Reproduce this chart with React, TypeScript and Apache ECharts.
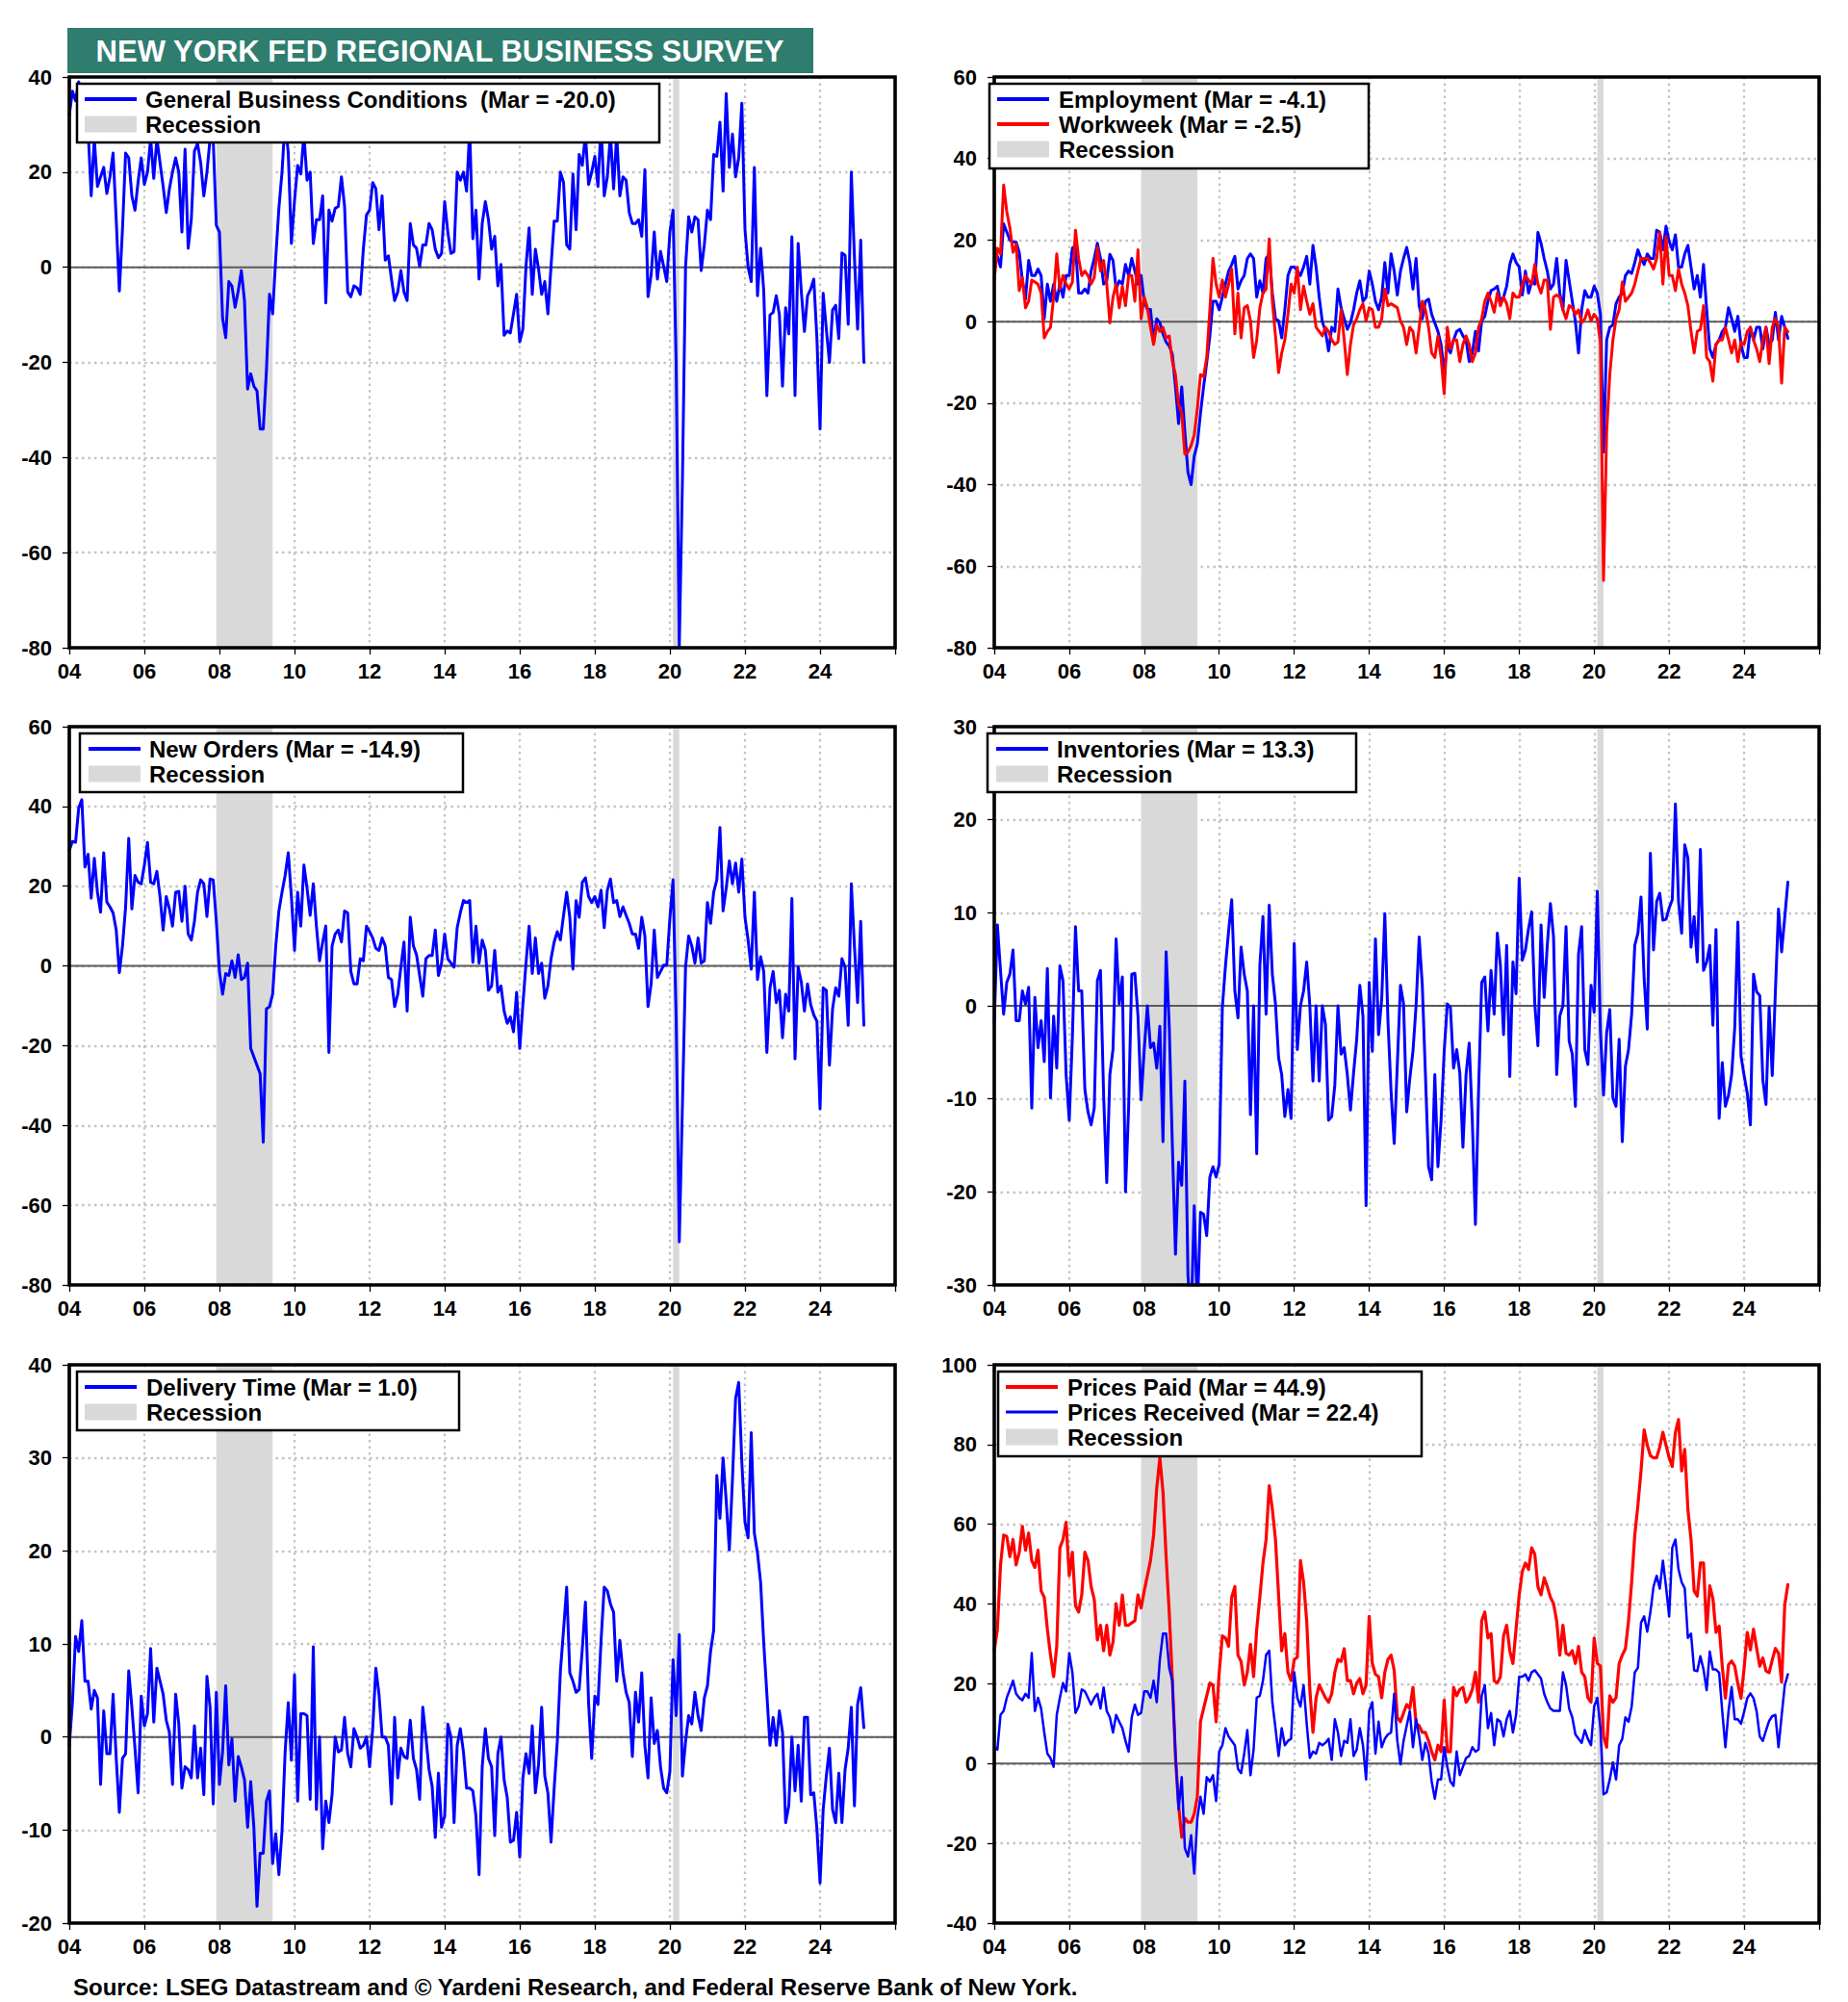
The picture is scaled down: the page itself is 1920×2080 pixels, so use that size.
import React, { useEffect, useRef } from "react";
import * as echarts from "echarts";

// ---------- time frame ----------
const START_YEAR = 2004; // first observation: Jan 2004, monthly
const X_MIN = 2004;
const X_MAX = 2026;
const X_INTERVAL = 2;
const recessionSpans: [number, number][] = [
  [2007 + 11 / 12, 2009 + 5 / 12],
  [2020 + 1 / 12, 2020 + 3 / 12],
];

// ---------- series values (monthly, Jan 2004 .. Mar 2025) ----------
const generalBusiness = [
  32, 37, 35, 39, 34, 31, 29, 15, 27, 17, 19, 21,
  15.5, 19, 24, 10, -5, 8, 24, 23, 15, 12, 18, 23,
  17.4, 20, 27, 18.7, 27, 22, 17, 11.5, 16.5, 20, 23, 20,
  7.4, 24.8, 4, 10, 24.4, 26, 22, 15, 20, 27, 27, 8.8,
  7.4, -10.7, -14.8, -3, -4, -8.4, -5, -0.7, -7, -25.6, -22.4, -25,
  -26, -34, -34, -22, -5.7, -9.8, 2, 12.4, 20, 31, 24, 5,
  14, 21.4, 19.6, 28, 18.3, 20, 5, 10, 10, 15, -7.5, 12,
  9.7, 12.4, 12.8, 19, 12.8, -5.2, -6.2, -3.9, -4.3, -5.7, 3.8, 11,
  12, 17.8, 16.5, 7.9, 15, 1.5, 2.4, -2.5, -7, -5.2, -0.7, -5.2,
  -7, 9.2, 4.7, 4, 0.2, 4.7, 4.7, 9.2, 7.9, 3.8, 2, 2.9,
  13.8, 7.4, 2.9, 3.3, 20, 18.3, 20, 16, 29, 6, 12, -2.5,
  9.2, 13.8, 10, 3.8, 6.5, -3.9, 0.6, -14.3, -13.4, -13.8, -9.8, -5.7,
  -15.7, -13, 0.2, 8.3, -5.7, 3.8, -0.3, -5.7, -3, -9.8, 0.2, 9.7,
  9.7, 20, 17.8, 4.7, 3.8, 19.6, 7.9, 23.7, 21.4, 28, 17.4, 20,
  23.3, 17, 30, 15, 19, 28, 16.5, 28, 15, 19, 18.3, 11.5,
  9.2, 9.2, 10, 6.5, 20.5, -6.2, -1.6, 7.4, -2.5, 3.3, 0.2, -3,
  7.4, 12, -20, -80, -45, 0, 10.6, 7.4, 10.6, 10, -0.7, 4.7,
  12, 10, 23.7, 23.3, 30.5, 16, 36.5, 21, 28, 19, 23, 34.5,
  8, 0, -3, 21, -6, 4, -5, -27, -10, -9.5, -6, -10,
  -25, -8.5, -14, 6.4, -27, 5, -5, -13.5, -6, -4.6, -2.5, -15,
  -34, -5.5, -13, -20, -9, -8, -15, 3, 2.5, -12, 20, 2,
  -13, 5.7, -20,
];

const employment = [
  18, 16, 13.4, 24, 22, 20, 19.5, 19.5, 17, 10, 5.5, 15,
  11.3, 11.3, 12.9, 11.3, 0.7, 9.2, 5, 9.2, 5, 9.2, 6, 11.3,
  11.3, 18, 18.7, 7, 7, 8, 7, 12.4, 15.5, 19.2, 15.5, 9.2,
  10, 16.5, 15, 8, 10, 9.2, 14, 11.3, 15.5, 12.4, 9.2, 11.3,
  5, 3, 3, -5, 0.7, -0.3, -3, -5, -6, -8, -16, -25,
  -16, -27, -37, -40, -33, -30, -22.5, -16, -10, -3.5, 5, 5,
  2.9, 6, 9.2, 12.4, 14, 16, 8, 10, 11.3, 15.5, 16.6, 15.5,
  6, 10, 7, 15.5, 16.6, 7, 0.7, 0.2, -4, 2.9, 11.3, 13.4,
  13.4, 12.5, 11.3, 13.4, 16, 9.2, 18.7, 13.4, 6, 0, -2.4, -7.2,
  -1.4, -2.4, 8, 3.4, 0.7, -1.9, -0.3, 2.9, 7, 10, 5, 6,
  12.4, 9.2, 5, 2.9, 6, 14.5, 7, 16.6, 12.4, 6.5, 12.4, 15.5,
  18.2, 14.5, 8, 15.5, 3.9, 0.7, 5, 5.5, 1.8, -0.3, -2.4, -5.6,
  -12.5, -5.6, -7.7, -4.5, -2.4, -1.9, -3.5, -4.5, -9.8, -7.7, -2.4, -7.2,
  0.2, 1.3, 5, 7.6, 8, 8.7, 5, 6, 8.7, 14, 16.6, 14.5,
  13.4, 6.5, 12.4, 7, 9.7, 9.2, 21.9, 19.2, 15.5, 12.4, 8, 9.2,
  15.5, 7, 2.9, 15, 10, 5, 0, -7.7, 2.9, 7.6, 6, 6,
  8.7, 7, 1.8, -32, -4.5, -1.4, -0.8, 4.4, 6, 7, 11.3, 12.4,
  11.8, 14.5, 17.6, 15.5, 14, 16.6, 15.5, 15.5, 22.4, 21.9, 17.6, 23.4,
  19.7, 17.6, 21.3, 13.4, 13.4, 16.6, 18.7, 13.4, 8, 11.3, 6, 14,
  3, -6.7, -8.8, -5.6, -4.5, -2.4, -1.4, 3.4, 0.7, -2.4, 1.3, -5.6,
  -8.8, -8.8, -1.4, -4.5, -1.4, -1.4, -6.7, -1.4, -5.6, -4.5, 2.3, -4.5,
  1.3, -1.4, -4.1,
];

const workweek = [
  10.2, 18, 16.6, 33.5, 27, 23, 17, 19, 7.6, 10.8, 3.4, 5,
  10.2, 9.7, 9.2, 7, -4, -2.4, -1.4, 6, 16.6, 8, 11.3, 9.2,
  8, 9.7, 22.4, 15.5, 11.3, 12.4, 11.3, 9.2, 10.8, 18.2, 12.4, 15,
  9.2, -0.3, 6, 9.2, 3.4, 8.7, 3.9, 11.3, 11.3, 5, 17.6, 0.7,
  6, 3.4, -1.4, -5.6, -0.8, -2.4, -1.4, -4, -3.5, -9.8, -13, -20.4,
  -22.5, -32.5, -32, -30.4, -27.8, -21.4, -13, -13.5, -8.8, 2.9, 15.5, 9.2,
  6, 10.2, 6, 9.2, 12.9, -3, 7, -4, 3.4, 3.9, 0.2, -8.8,
  -4.5, 3.4, 7, 8, 20.3, 5, -3.5, -12.5, -7.7, -4.5, 1.8, 9.2,
  7, 13.4, 2.9, 8.7, 5, 1.8, 4.4, -1.4, -2.4, -3.5, -1.4, -2.4,
  -4.5, -5.6, -5, 2.9, -4.5, -13, -5.6, -0.8, 0.7, 2.9, 4.4, 0.2,
  3.4, 2.9, -1.4, -1.4, 0.7, 8, 3.9, 4.4, 3.9, 3.4, 0.2, -1.4,
  -5.6, -1.4, -2.4, -7.7, -1.4, 5, 2.9, -1.4, -7.7, -8.8, -3.5, -8.8,
  -17.7, -1.4, -6.7, -4.5, -4.5, -9.8, -5.6, -3.5, -5.6, -9.8, -7.7, -1.4,
  0.7, 5, 7, 5, 2.3, 7, 3.9, 6, 4.4, 0.7, 7, 6,
  6, 9.2, 11.3, 10.2, 9.2, 14, 9.2, 7, 10.2, 10.2, -1.9, 6,
  6.5, 6, 2.9, 0.7, 3.9, 3.4, 1.8, 2.9, -0.3, 0.7, 2.9, 0.2,
  1.8, 0.7, -5, -63.5, -27, -13, -4.5, 0.7, 2.9, 9.7, 5, 6,
  7, 9.2, 12.4, 15.5, 15.5, 15.5, 14.5, 12.9, 15.5, 21.9, 9.2, 20.8,
  11.3, 11.3, 7.6, 12.9, 9.2, 7, 3.9, -2.4, -7.7, -2.4, -1.9, 3.9,
  -8.8, -9.8, -14.6, -5.6, -4.5, -4.5, -1.4, -4.5, -7.7, -4.5, -9.8, -5,
  -5.6, -2.4, -1.4, -4.5, -6.7, -9.8, -4.5, -1.4, -10.3, -1.4, 0.7, -1.4,
  -15.1, -1.4, -2.5,
];

const newOrders = [
  29, 31.2, 31, 39.6, 41.7, 24.8, 28, 17, 27, 18.5, 13.5, 28.4,
  16, 14.8, 13.3, 9, -1.7, 5, 14.8, 32, 14.3, 22.7, 21, 20.6,
  25.3, 31, 21, 20.6, 23.7, 17.4, 9, 17.4, 14.3, 10, 18.5, 18.7,
  11.2, 20, 8, 6.5, 11.2, 18.5, 21.6, 20.6, 12.4, 21.8, 21.6, 11.2,
  -1.4, -7.1, -1.9, -2.4, 1.3, -2.9, 2.8, -3.4, -2.9, 0.7, -20.7, -22.8,
  -24.9, -27, -44.2, -10.8, -10.2, -7.1, 5, 13.8, 18.5, 22.7, 28.4, 17.4,
  3.9, 18.5, 10, 25.3, 19.5, 12.7, 20.6, 10, 1.3, 6, 10, -21.7,
  5, 8, 9, 6, 13.8, 13.3, -1.4, -4.5, -4.5, 1.8, 1.3, 10,
  8.6, 7, 4.4, 3.9, 7, 5, -2.9, -3.4, -10.2, -7.1, -0.3, 6,
  -11.3, 12.2, 5, 2.8, -2.4, -7.6, 1.8, 2.6, 2.6, 9, -2.4, 0.7,
  8, 1.8, 0.7, -0.3, 9.6, 13.3, 16.4, 15.9, 16.4, 0.9, 10, 0.7,
  6.5, 3.9, -6.1, -5, 3.9, -6.6, -5, -11.3, -14.4, -12.8, -16.5, -6.6,
  -20.7, -9.7, 0.7, 10, -1.9, 7, -1.9, 0.7, -8.1, -5, 1.8, 6,
  8.6, 6.5, 12.7, 18.5, 12.2, -0.8, 16.4, 12.2, 21, 22.1, 17.4, 15.9,
  17.4, 14.8, 19, 9.6, 19, 21.8, 15.9, 16.4, 12.4, 14.8, 12.7, 10.7,
  8, 8, 4.4, 12.2, 7.5, -10.2, -4.5, 9, -2.9, -1.4, 0.2, 0.2,
  12, 21.6, -13, -69.2, -35, -0.3, 7.5, 5, 0.7, 7, 0.7, 1.3,
  15.9, 10.7, 18.5, 21.6, 34.7, 13.8, 19.5, 26.3, 20.6, 25.8, 18.5, 26.8,
  12.2, 6.5, -0.8, 18.5, -3.4, 2.3, -1.4, -21.7, -5.5, -1.4, -9.2, -6.1,
  -18, -7.1, -11.3, 16.9, -23.3, -0.3, -4, -11.3, -4.5, -9.7, -12.3, -13.9,
  -35.8, -5.5, -6.1, -24.9, -10.8, -5.5, -7.6, 1.8, -0.3, -14.9, 20.6, 4.9,
  -9.2, 11.2, -14.9,
];

const inventories = [
  -1.8, 8.7, 3.8, -0.9, 2.5, 3.4, 6, -1.6, -1.6, 1.6, 0.2, 2,
  -11, 0.9, -4.5, -1.6, -6, 4, -9.9, -1.1, -6.7, 4.3, 2.7, -7.4,
  -12.3, -3.4, 8.5, 1.6, 1.6, -9, -11.4, -12.8, -11, 2.7, 3.8, -9.6,
  -19, -7.4, -4.7, 7.2, 0.2, 3.1, -20, -11, 3.4, 3.5, -1.1, -10.1,
  -4.7, 0, -4.5, -4, -6.7, -2.2, -14.6, 5.8, -2.2, -15, -26.7, -16.8,
  -19.3, -8.1, -29, -34, -21.5, -33, -22.2, -22.4, -24.7, -18.4, -17.3, -18.4,
  -17, -0.2, 4.3, 8, 11.4, 1.6, -1.3, 6.3, 3.4, 1.6, -11.7, 0,
  -15.9, 4.3, 9.6, -0.9, 10.8, 3.4, 0.2, -5.6, -7.4, -11.9, -9, -12.1,
  6.7, -4.7, 0, 1.6, 4.7, 0, -8.1, 0, -8.1, 0, -2, -12.3,
  -11.9, -8.5, 0, -5.2, -4.5, -7.4, -11.2, -7.2, -3.6, 2.2, -1.1, -21.5,
  2.5, -4.9, 7.2, -3.1, 0.7, 9.9, -1.6, -9.2, -14.8, -6.3, 2.2, 0.2,
  -11.4, -7.8, -4.9, 0, 7.4, 2.2, -7.4, -17.3, -18.7, -7.4, -17.3, -12.3,
  -4.9, 0.2, -0.2, -6.7, -4.7, -7.2, -15.2, -7.4, -4, -12.3, -23.5, -9.2,
  2.5, 3.1, -2.7, 3.8, -0.9, 7.8, 4.3, -3.1, 6.5, -7.6, 4.7, 1.3,
  13.7, 4.9, 6, 8.3, 10.1, 0.2, -4.3, 8.7, 0.9, 6.5, 11, 7.4,
  -7.4, -1.1, 0, 8.5, -3.8, -5.2, -10.8, 5.6, 8.5, -4.7, -6.3, 2.2,
  -0.7, 12.3, -2.7, -9.6, -2.9, -0.4, -9.9, -10.8, -3.6, -14.6, -6.5, -4.7,
  -0.9, 6.5, 7.8, 11.7, 2.9, -2.5, 16.4, 6, 11.2, 12.1, 9.2, 9.3,
  10.5, 11.4, 21.7, 11.2, 7.8, 17.3, 15.9, 6.3, 9.6, 4.7, 16.8, 3.8,
  4.7, 6.5, -2.1, 8.2, -12.1, -6.1, -10.8, -9.6, -7.4, -2.3, 9, -5.4,
  -7.5, -9.4, -12.8, 3.4, 1.5, 1.1, -8, -10.6, -0.1, -7.5, 1.5, 10.4,
  5.8, 9.5, 13.3,
];

const deliveryTime = [
  -0.9, 3.7, 10.8, 9.2, 12.5, 6, 6, 3, 5, 4.2, -5.1, 2.8,
  -1.8, -1.8, 4.6, -2.3, -8.1, -2.3, -1.8, 7.1, 3.2, -1.2, -6, 4.4,
  1.2, 2.5, 9.5, 1.6, 7.4, 6, 4.6, 1.8, 0.5, -5.1, 4.6, 1.4,
  -5.5, -3.2, -3.5, -4.4, 1.2, -4.4, -1.2, -6.2, 6.5, 3.2, -7.2, 4.8,
  -5.1, -1.6, 5.5, -3, -0.2, -6.9, -2.1, -3.2, -4.6, -9.7, -4.8, -9.7,
  -18.2, -12.5, -12.5, -6.9, -5.8, -13.6, -10.4, -14.8, -10.1, -1.6, 3.7, -2.5,
  6.7, -6.9, 2.5, 2.5, 2.3, -6.7, 9.7, -7.8, 0, -12, -6.9, -9.2,
  -6.2, 0, -1.6, -1.4, 2.1, -1.8, -3.2, 0.9, 0, -1.2, -0.9, 0,
  -3.2, 0.9, 7.4, 4.6, 0, 0, -0.9, -7.2, 2.1, -4.4, -1.2, -2.1,
  -2.3, 1.8, -2.3, -3.5, -6.7, 3.2, 0, -3.5, -5.3, -10.8, -3.9, -9.7,
  -8.5, 1.4, 0, -9.2, -0.9, 0.9, -1.6, -5.5, -5.5, -5.8, -8.5, -14.8,
  -3.2, 0.9, -2.3, -3.2, -10.6, -1.8, 0, -4.6, -6.5, -11.3, -11.1, -8.1,
  -12.9, -4.4, -1.8, -3.9, 1.2, -6, -3, 3.2, -4.2, -6, -11.3, -5.5,
  -0.5, 7.1, 11.5, 16.1, 6.9, 6, 4.8, 5.1, 9.5, 14.5, 3.7, -2.3,
  4.4, 3.5, 10.4, 16.1, 15.7, 14.3, 13.4, 6, 10.4, 6.9, 4.8, 3.7,
  -2.1, 4.8, 1.6, 6.9, -0.9, -4.4, 4.2, -0.7, 0.7, -3.2, -5.5, -6,
  -3.7, 8.3, 2.3, 11, -4.2, -0.5, 2.3, 1.4, 4.8, 2.3, 0.7, 4.2,
  5.5, 9.2, 11.5, 28.1, 23.5, 30, 25.4, 20.1, 27.7, 36.4, 38.1, 29.5,
  23.1, 21.4, 32.7, 21.9, 19.8, 16.6, 10.1, 4.6, -0.9, 2.1, -0.9, 2.8,
  0.5, -9.2, -7.4, 0, -5.8, -0.9, -6.9, 2.1, 2.1, -6.2, -6, -9.9,
  -15.7, -7.8, -4.2, -1.2, -7.8, -9.2, -3.9, -9.2, -3.5, -1.2, 3.2, -7.4,
  3.5, 5.3, 1.0,
];

const pricesPaid = [
  28.3, 33.7, 49.8, 57.3, 57, 51.9, 56.2, 49.8, 53, 59.5, 53.5, 57.8,
  50.9, 49.2, 53.5, 43.3, 41.7, 33.7, 27.2, 21.8, 29.4, 54.1, 56.2, 60.5,
  47.1, 53, 39.6, 38, 42.3, 53, 50.9, 44.4, 41.2, 31, 34.7, 28.3,
  34.7, 27.2, 30.4, 40.1, 34.7, 42.3, 34.7, 34.7, 35.3, 35.8, 42.3, 39,
  43.3, 47.1, 50.9, 57.3, 69.1, 76.7, 68.1, 51.9, 38, 20.8, 1.4, -10.4,
  -18.5, -13.7, -14.7, -14.7, -12.6, -8.3, 10.5, 13.8, 17, 20.2, 19.7, 10.5,
  22.9, 32, 31.5, 29.4, 41.7, 44.4, 27.2, 25.6, 19.7, 22.9, 29.9, 21.8,
  33.7, 41.7, 50.3, 56.2, 69.7, 63.8, 56.2, 42.3, 28.3, 32.6, 22.9, 20.8,
  26.1, 26.7, 50.9, 45.5, 35.8, 18.6, 7.8, 16.5, 19.7, 18.1, 16.5, 15.4,
  17.5, 22.9, 26.1, 25.6, 28.8, 20.8, 20.8, 17.5, 20.2, 21.3, 17.5, 19.7,
  36.9, 25.1, 22.4, 21.8, 16.5, 22.9, 26.1, 27.2, 23.4, 11.6, 10.5, 12.7,
  14.8, 13.8, 19.1, 10, 9.5, 7.8, 7.8, 5.7, 3, 0.9, 4.6, 3,
  15.9, 3, 3, 19.1, 17, 18.6, 19.1, 15.4, 16.5, 18.6, 22.9, 15.4,
  35.8, 38, 31.5, 32.6, 20.8, 20.2, 21.8, 32, 34.7, 28.3, 25.1, 33.7,
  42.3, 48.2, 50.3, 48.7, 54.1, 52.5, 44.4, 42.3, 46.6, 44.4, 41.7, 40.1,
  35.8, 27.2, 34.7, 27.7, 27.2, 28.3, 25.1, 29.4, 22.9, 21.8, 16.5, 15.4,
  31.5, 25.1, 24.5, 6.8, 4.1, 17, 15.4, 16.5, 25.1, 27.2, 28.8, 35.8,
  45.5, 57.3, 64.8, 73.4, 83.7, 79.9, 77.2, 76.7, 76.7, 79.4, 83.1, 79.9,
  76.7, 74.5, 83.1, 86.3, 73.4, 78.8, 63.8, 56.2, 43.3, 42, 50.3, 50.3,
  32.9, 44.6, 41.4, 32.9, 34.5, 24.4, 16.4, 24.8, 25.7, 24.4, 20, 16.4,
  24, 32.9, 28.5, 33.7, 29, 24.4, 26.5, 23.2, 22.8, 26, 28.9, 27.7,
  20.4, 39.8, 44.9,
];

const pricesReceived = [
  4.1, 3.5, 12.2, 13.2, 16.5, 18.6, 20.8, 17.5, 16.5, 15.9, 17.5, 16.5,
  27.7, 13.2, 16.5, 13.8, 7.8, 2.5, 1.4, -0.8, 12.2, 16.5, 20.2, 18.1,
  27.7, 22.9, 12.7, 14.3, 18.6, 18.1, 16.5, 14.8, 16.5, 17.5, 13.8, 19.1,
  13.2, 11.6, 7.8, 12.2, 10.5, 8.9, 5.7, 3, 11.6, 14.8, 12.2, 12.7,
  18.1, 18.1, 16.5, 20.8, 15.4, 26.1, 32.6, 32.6, 24, 20.8, 2.5, -11.5,
  -3.4, -21.2, -23.3, -18, -27.6, -13.7, -8.3, -12.6, -3.4, -4.5, -2.9, -9.4,
  3, 4.6, 8.9, 6.8, 5.7, 4.6, -1.3, -2.4, 2.5, 8.4, -2.9, 3.5,
  16.5, 17, 20.8, 27.2, 28.3, 15.4, 8.9, 1.9, 8.9, 4.6, 5.7, 6.2,
  22.9, 16.5, 14.3, 19.7, 10, 1.4, 3, 2.5, 5.2, 4.6, 5.2, 6.2,
  0.9, 11.1, 7.8, 1.9, 5.7, 5.2, 11.1, 1.9, 3.5, 8.9, 4.6, -4,
  13.2, 15.4, 2.5, 10.5, 4.1, 6.2, 7.3, 7.8, 17.5, 5.7, -0.2, 5.7,
  9.5, 13.2, 4.1, 11.1, 6.8, 0.9, 5.2, 2.5, -4.5, -8.8, -4, -4,
  4.1, -0.8, -4.5, -5.6, 3, -2.9, -0.8, 1.4, 1.9, 4.1, 3, 3.5,
  17, 19.7, 8.9, 12.7, 4.6, 11.1, 10.5, 6.8, 11.1, 13.2, 7.8, 12.2,
  21.8, 21.8, 22.4, 20.8, 22.9, 23.4, 22.4, 21.3, 17.5, 15.4, 13.8, 13.2,
  13.2, 13.2, 22.9, 19.7, 13.8, 11.6, 7.3, 6.2, 5.2, 8.4, 6.2, 4.6,
  14.3, 16.5, 8.9, -7.7, -7.2, -4, 0.3, -4, 4.6, 6.2, 11.6, 10.5,
  14.3, 22.9, 24, 35.3, 36.9, 33.1, 38, 44.4, 47.1, 43.9, 50.9, 44.4,
  36.9, 54.1, 56.2, 48.7, 45.5, 43.9, 31.5, 32.6, 23.4, 23.2, 26.9, 23.6,
  18.4, 28.1, 23.6, 23.6, 22.8, 13.1, 4.1, 13.1, 19.2, 11.1, 11.1, 10,
  13, 16.4, 17.6, 16.4, 13.1, 6.8, 5.7, 8.3, 10.7, 11.9, 12.2, 4.1,
  12, 19.6, 22.4,
];

// ---------- texts ----------
const TITLE = "NEW YORK FED REGIONAL BUSINESS SURVEY";
const SOURCE = "Source: LSEG Datastream and \u00a9 Yardeni Research, and Federal Reserve Bank of New York.";

// ---------- styling ----------
const FONT = '"Liberation Sans", Arial, Helvetica, sans-serif';
const BLUE = "#0000ff";
const RED = "#ff0000";
const REC_GRAY = "#d9d9d9";
const GRID_GRAY = "#c4c4c4";
const TEAL = "#2e7d6e";

type LegendRow = { kind: "line" | "rec"; color?: string; lw?: number; label: string };
type Panel = {
  left: number; top: number; width: number; height: number;
  yMin: number; yMax: number; yInterval: number;
  lines: { name: string; values: number[]; color: string; width: number }[];
  legend: { x: number; w: number; sx: number; tx: number; rows: LegendRow[] };
};

const LEFT_X = 72, LEFT_W = 858, RIGHT_X = 1033, RIGHT_W = 857;
const ROW1_Y = 80, ROW1_H = 593, ROW2_Y = 755, ROW2_H = 580, ROW3_Y = 1418, ROW3_H = 580;

const panels: Panel[] = [
  {
    left: LEFT_X, top: ROW1_Y, width: LEFT_W, height: ROW1_H, yMin: -80, yMax: 40, yInterval: 20,
    lines: [{ name: "General Business Conditions", values: generalBusiness, color: BLUE, width: 3 }],
    legend: { x: 80, w: 605, sx: 88, tx: 151, rows: [
      { kind: "line", color: BLUE, lw: 4, label: "General Business Conditions  (Mar = -20.0)" },
      { kind: "rec", label: "Recession" },
    ] },
  },
  {
    left: RIGHT_X, top: ROW1_Y, width: RIGHT_W, height: ROW1_H, yMin: -80, yMax: 60, yInterval: 20,
    lines: [
      { name: "Employment", values: employment, color: BLUE, width: 3 },
      { name: "Workweek", values: workweek, color: RED, width: 3 },
    ],
    legend: { x: 1028, w: 394, sx: 1036, tx: 1100, rows: [
      { kind: "line", color: BLUE, lw: 4, label: "Employment (Mar = -4.1)" },
      { kind: "line", color: RED, lw: 4, label: "Workweek (Mar = -2.5)" },
      { kind: "rec", label: "Recession" },
    ] },
  },
  {
    left: LEFT_X, top: ROW2_Y, width: LEFT_W, height: ROW2_H, yMin: -80, yMax: 60, yInterval: 20,
    lines: [{ name: "New Orders", values: newOrders, color: BLUE, width: 3 }],
    legend: { x: 83, w: 398, sx: 92, tx: 155, rows: [
      { kind: "line", color: BLUE, lw: 4, label: "New Orders (Mar = -14.9)" },
      { kind: "rec", label: "Recession" },
    ] },
  },
  {
    left: RIGHT_X, top: ROW2_Y, width: RIGHT_W, height: ROW2_H, yMin: -30, yMax: 30, yInterval: 10,
    lines: [{ name: "Inventories", values: inventories, color: BLUE, width: 3 }],
    legend: { x: 1026, w: 383, sx: 1035, tx: 1098, rows: [
      { kind: "line", color: BLUE, lw: 4, label: "Inventories (Mar = 13.3)" },
      { kind: "rec", label: "Recession" },
    ] },
  },
  {
    left: LEFT_X, top: ROW3_Y, width: LEFT_W, height: ROW3_H, yMin: -20, yMax: 40, yInterval: 10,
    lines: [{ name: "Delivery Time", values: deliveryTime, color: BLUE, width: 3 }],
    legend: { x: 80, w: 397, sx: 88, tx: 152, rows: [
      { kind: "line", color: BLUE, lw: 4, label: "Delivery Time (Mar = 1.0)" },
      { kind: "rec", label: "Recession" },
    ] },
  },
  {
    left: RIGHT_X, top: ROW3_Y, width: RIGHT_W, height: ROW3_H, yMin: -40, yMax: 100, yInterval: 20,
    lines: [
      { name: "Prices Paid", values: pricesPaid, color: RED, width: 3.2 },
      { name: "Prices Received", values: pricesReceived, color: BLUE, width: 2.5 },
    ],
    legend: { x: 1037, w: 440, sx: 1045, tx: 1109, rows: [
      { kind: "line", color: RED, lw: 4, label: "Prices Paid (Mar = 44.9)" },
      { kind: "line", color: BLUE, lw: 3, label: "Prices Received (Mar = 22.4)" },
      { kind: "rec", label: "Recession" },
    ] },
  },
];

function toPoints(values: number[]) {
  return values.map((v, i) => [START_YEAR + i / 12, v]);
}

function buildOption() {
  const labelStyle = { color: "#000", fontSize: 22, fontWeight: "bold" as const, fontFamily: FONT };
  const splitLine = { show: true, lineStyle: { color: GRID_GRAY, width: 2.3, type: [2.5, 4] as any } };
  const tick = { show: true, length: 7, lineStyle: { color: "#000", width: 1.3 } };

  const grid = panels.map((p) => ({ left: p.left, top: p.top, width: p.width, height: p.height, show: false }));
  const xAxis = panels.map((p, i) => ({
    type: "value", gridIndex: i, min: X_MIN, max: X_MAX, interval: X_INTERVAL,
    axisLine: { show: false, onZero: false },
    axisTick: tick,
    axisLabel: {
      ...labelStyle, margin: 13,
      formatter: (v: number) => (v >= X_MAX ? "" : String(Math.round(v) % 100).padStart(2, "0")),
    },
    splitLine,
  }));
  const yAxis = panels.map((p, i) => ({
    type: "value", gridIndex: i, min: p.yMin, max: p.yMax, interval: p.yInterval,
    axisLine: { show: false, onZero: false },
    axisTick: tick,
    axisLabel: { ...labelStyle, margin: 18 },
    splitLine,
  }));

  const series: any[] = [];
  panels.forEach((p, i) => {
    series.push({
      type: "line", xAxisIndex: i, yAxisIndex: i, silent: true, z: 1,
      data: [[X_MIN, 0], [X_MAX, 0]], symbol: "none",
      lineStyle: { opacity: 0, width: 0 },
      markArea: {
        silent: true, itemStyle: { color: REC_GRAY },
        data: recessionSpans.map(([a, b]) => [{ xAxis: a }, { xAxis: b }]),
      },
    });
    series.push({
      type: "line", xAxisIndex: i, yAxisIndex: i, silent: true, z: 2,
      data: [[X_MIN, 0], [X_MAX, 0]], symbol: "none",
      lineStyle: { color: "#5a5a5a", width: 2 },
    });
    p.lines.forEach((l) => {
      series.push({
        type: "line", name: l.name, xAxisIndex: i, yAxisIndex: i, z: 3, silent: true,
        data: toPoints(l.values), symbol: "none", showSymbol: false, clip: true,
        lineStyle: { color: l.color, width: l.width, join: "round", cap: "round" },
        itemStyle: { color: l.color },
      });
    });
  });

  const graphics: any[] = [];
  // title banner
  graphics.push({ type: "rect", shape: { x: 70, y: 29, width: 775, height: 47 }, style: { fill: TEAL }, z: 70 });
  graphics.push({
    type: "text", x: 457, y: 53, z: 71,
    style: { text: TITLE, fill: "#fff", fontSize: 31, fontWeight: "bold", fontFamily: FONT, align: "center", verticalAlign: "middle" },
  });
  panels.forEach((p) => {
    // plot frame
    graphics.push({
      type: "rect", shape: { x: p.left, y: p.top, width: p.width, height: p.height },
      style: { fill: "none", stroke: "#000", lineWidth: 3.6 }, z: 50,
    });
    const l = p.legend;
    const boxTop = p.top + 7;
    const boxH = l.rows.length === 3 ? 88 : 61;
    graphics.push({
      type: "rect", shape: { x: l.x, y: boxTop, width: l.w, height: boxH },
      style: { fill: "#fff", stroke: "#000", lineWidth: 2.5 }, z: 60,
    });
    l.rows.forEach((r, k) => {
      const y = p.top + 23 + k * 26;
      if (r.kind === "line") {
        graphics.push({
          type: "line", shape: { x1: l.sx, y1: y, x2: l.sx + 54, y2: y },
          style: { stroke: r.color, lineWidth: r.lw }, z: 61,
        });
      } else {
        graphics.push({
          type: "rect", shape: { x: l.sx, y: y - 8.5, width: 54, height: 17 },
          style: { fill: REC_GRAY }, z: 61,
        });
      }
      graphics.push({
        type: "text", x: l.tx, y: y, z: 62,
        style: { text: r.label, fill: "#000", fontSize: 24, fontWeight: "bold", fontFamily: FONT, align: "left", verticalAlign: "middle" },
      });
    });
  });
  graphics.push({
    type: "text", x: 76, y: 2064, z: 62,
    style: { text: SOURCE, fill: "#000", fontSize: 24, fontWeight: "bold", fontFamily: FONT, align: "left", verticalAlign: "middle" },
  });

  return {
    animation: false,
    backgroundColor: "#ffffff",
    grid, xAxis, yAxis, series,
    graphic: { elements: graphics },
  };
}

export default function App() {
  const ref = useRef<HTMLDivElement | null>(null);
  useEffect(() => {
    if (!ref.current) return;
    const chart = echarts.init(ref.current, undefined, { renderer: "svg" });
    chart.setOption(buildOption() as any);
    return () => chart.dispose();
  }, []);
  return (
    <div
      ref={ref}
      style={{ position: "absolute", left: 0, top: 0, width: 1920, height: 2080, background: "#fff" }}
    />
  );
}
